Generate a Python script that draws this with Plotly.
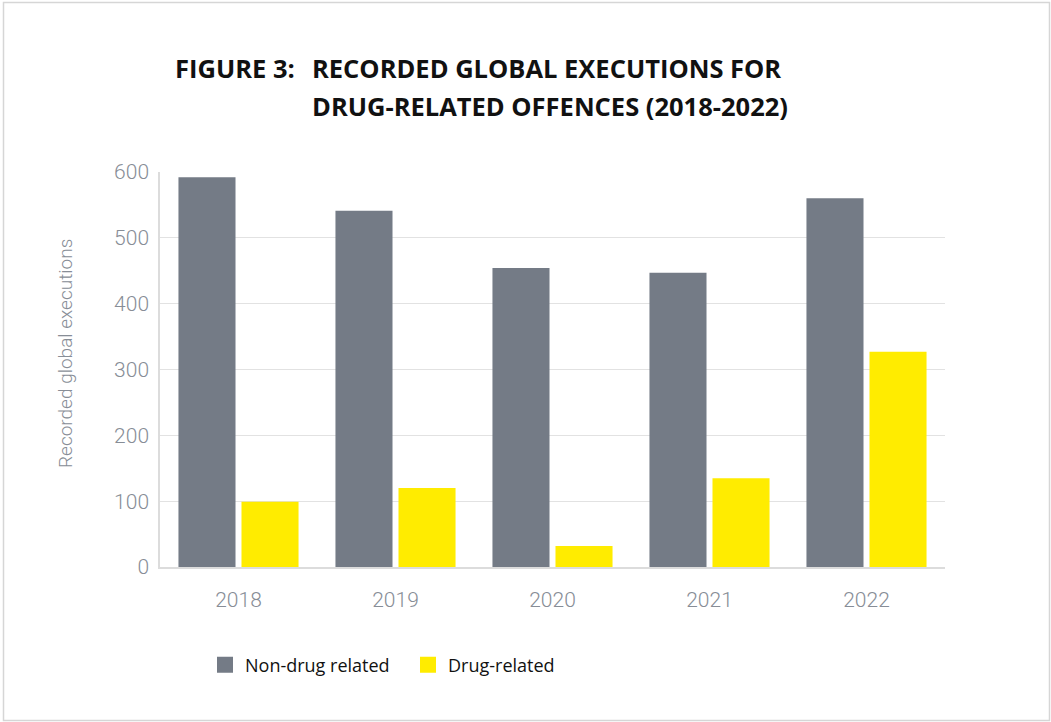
import plotly.graph_objects as go

years = ["2018", "2019", "2020", "2021", "2022"]
non_drug = [592, 541, 454, 447, 560]
drug_related = [99, 120, 32, 135, 327]

series_names = ["Non-drug related", "Drug-related"]
colors = ["#747b86", "#ffec00"]

title_prefix = "FIGURE 3:"
title_lines = ["RECORDED GLOBAL EXECUTIONS FOR", "DRUG-RELATED OFFENCES (2018-2022)"]
y_title = "Recorded global executions"

W, H = 1051, 722
L, R, T, B = 160, 106, 172, 155
pw, ph = W - L - R, H - T - B


def px(x):
    return (x - L) / pw


def py(y):
    return (H - B - y) / ph


fig = go.Figure()
for name, vals, col in zip(series_names, [non_drug, drug_related], colors):
    fig.add_trace(go.Bar(x=years, y=vals, name=name, marker=dict(color=col, line=dict(width=0)),
                         showlegend=False, hoverinfo="x+y+name"))
    # legend proxy
    fig.add_trace(go.Scatter(x=[None], y=[None], mode="markers", name=name,
                             marker=dict(symbol="square", size=22, color=col, line=dict(width=0)),
                             showlegend=True, hoverinfo="skip"))

light = "Roboto, Lato, sans-serif"
bold = "Open Sans, Noto Sans, sans-serif"
grey_txt = "#878d96"
tick_font = dict(family=light, size=21, color=grey_txt, weight=300)

fig.update_layout(
    width=W, height=H,
    margin=dict(l=L, r=R, t=T, b=B, autoexpand=False),
    paper_bgcolor="white", plot_bgcolor="white",
    barmode="group", bargap=0.197, bargroupgap=0.095,
    xaxis=dict(showgrid=False, showline=True, linecolor="#dcdcdc", linewidth=1.5,
               tickfont=tick_font, ticks="", ticklabelstandoff=13, fixedrange=True),
    yaxis=dict(range=[0, 600], dtick=100, showgrid=True, gridcolor="#e2e2e2", gridwidth=1.2,
               showline=True, linecolor="#dcdcdc", linewidth=1.5, zeroline=False,
               tickfont=tick_font, ticks="", ticklabelstandoff=5, fixedrange=True),
    legend=dict(orientation="h", x=px(205), y=py(665), xanchor="left", yanchor="middle",
                font=dict(family=bold, size=18, color="#111111"),
                itemsizing="trace", entrywidth=158, entrywidthmode="pixels", bgcolor="rgba(0,0,0,0)"),
    shapes=[dict(type="rect", xref="paper", yref="paper",
                 x0=px(3.5), x1=px(1049.5), y0=py(720.5), y1=py(2.5),
                 line=dict(color="#d6d6d6", width=1.5), fillcolor="rgba(0,0,0,0)", layer="below")],
)

fig.add_annotation(text=y_title, xref="paper", yref="paper", x=px(65), y=py(354),
                   xanchor="center", yanchor="middle", textangle=-90, showarrow=False,
                   font=dict(family=light, size=19, color=grey_txt, weight=300))

title_font = dict(family=bold, size=25.5, color="#111111", weight=700)
fig.add_annotation(text=title_prefix, xref="paper", yref="paper", x=px(173), y=py(68),
                   xanchor="left", yanchor="middle", showarrow=False, font=title_font, align="left")
for line, yc in zip(title_lines, [68, 106]):
    fig.add_annotation(text=line, xref="paper", yref="paper", x=px(310), y=py(yc),
                       xanchor="left", yanchor="middle", showarrow=False, font=title_font, align="left")

fig.write_html("out.html", config={"displayModeBar": False},
               post_script="document.body.style.margin='0';")
